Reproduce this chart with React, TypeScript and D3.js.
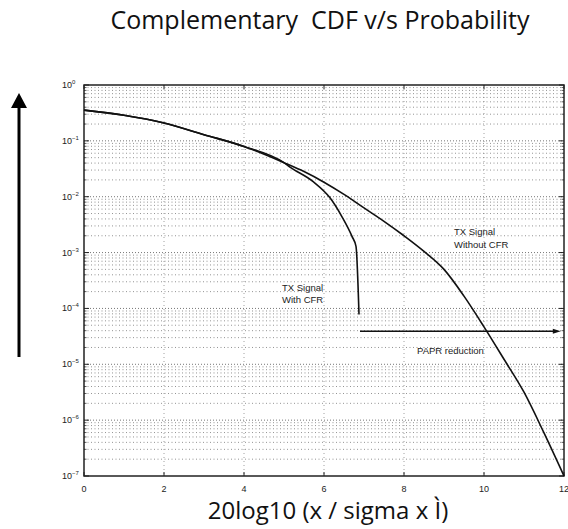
import React from "react";
import * as d3 from "d3";

const xTicks = [0, 2, 4, 6, 8, 10, 12];
const yExponents = [0, -1, -2, -3, -4, -5, -6, -7];

const withoutCfrX = [0, 1, 2, 3, 4, 5, 5.5, 6, 6.5, 7, 7.5, 8, 8.5, 9, 9.5, 10, 10.5, 11, 11.5, 12];
const withoutCfrP = [0.355, 0.288, 0.209, 0.129, 0.0794, 0.0407, 0.0282, 0.0182, 0.011, 0.00631, 0.00363, 0.002, 0.00105, 5.0e-4, 1.66e-4, 4.68e-5, 1.23e-5, 3.16e-6, 5.9e-7, 1e-7];

const withCfrX = [0, 1, 2, 3, 4, 5, 5.15, 5.73, 6.15, 6.45, 6.7, 6.8, 6.875];
const withCfrP = [0.355, 0.288, 0.209, 0.129, 0.0794, 0.0407, 0.0339, 0.0186, 0.00955, 0.00437, 0.00195, 0.00129, 7.8e-5];

const paprStartX = 6.9;
const paprEndX = 11.92;
const paprP = 3.9e-5;

const W = 568, H = 529;
const L = 84, R = 564, T = 85, B = 476;

export default function App() {
  const x = d3.scaleLinear().domain([0, 12]).range([L, R]);
  const y = d3.scaleLog().domain([1, 1e-7]).range([T, B]);

  const line = d3.line<[number, number]>()
    .x(d => x(d[0])).y(d => y(d[1])).curve(d3.curveMonotoneX);

  const without = withoutCfrX.map((v, i) => [v, withoutCfrP[i]] as [number, number]);
  const withC = withCfrX.map((v, i) => [v, withCfrP[i]] as [number, number]);

  const minors: number[] = [];
  for (let e = -7; e < 0; e++) for (let m = 2; m <= 9; m++) minors.push(m * Math.pow(10, e));

  const ay = y(paprP);

  return (
    <svg width={W} height={H} style={{ position: "absolute", left: 0, top: 0, background: "#fff" }}>
      <text x={320} y={29} textAnchor="middle" fontFamily="'Open Sans', sans-serif" fontSize={25} fill="#111">{"Complementary\u00A0 CDF v/s Probability"}</text>

      {/* left arrow */}
      <line x1={19} x2={19} y1={106} y2={357} stroke="#000" strokeWidth={3} />
      <path d="M19,93 L27,108 L11,108 Z" fill="#000" />

      {/* grid */}
      {minors.map((v, i) => (
        <line key={"hm" + i} x1={L} x2={R} y1={y(v)} y2={y(v)} stroke="#777" strokeWidth={0.8} strokeDasharray="1,2.5" />
      ))}
      {yExponents.slice(1, -1).map(e => (
        <line key={"hM" + e} x1={L} x2={R} y1={y(Math.pow(10, e))} y2={y(Math.pow(10, e))} stroke="#666" strokeWidth={0.9} strokeDasharray="1,2" />
      ))}
      {xTicks.slice(1, -1).map(t => (
        <line key={"v" + t} x1={x(t)} x2={x(t)} y1={T} y2={B} stroke="#888" strokeWidth={0.8} strokeDasharray="1,3" />
      ))}

      {/* ticks */}
      {xTicks.map(t => (
        <g key={"xt" + t}>
          <line x1={x(t)} x2={x(t)} y1={B} y2={B - 4} stroke="#222" />
          <line x1={x(t)} x2={x(t)} y1={T} y2={T + 4} stroke="#222" />
          <text x={x(t)} y={492} textAnchor="middle" fontFamily="Arial, 'Liberation Sans', sans-serif" fontSize={9} fill="#222">{t}</text>
        </g>
      ))}
      {minors.map((v, i) => (
        <g key={"ymt" + i}>
          <line x1={L} x2={L + 2.5} y1={y(v)} y2={y(v)} stroke="#333" strokeWidth={0.8} />
          <line x1={R} x2={R - 2.5} y1={y(v)} y2={y(v)} stroke="#333" strokeWidth={0.8} />
        </g>
      ))}
      {yExponents.map(e => {
        const yy = y(Math.pow(10, e));
        return (
          <g key={"yt" + e}>
            <line x1={L} x2={L + 5} y1={yy} y2={yy} stroke="#222" />
            <line x1={R} x2={R - 5} y1={yy} y2={yy} stroke="#222" />
            <text x={62} y={yy + 3} fontFamily="Arial, 'Liberation Sans', sans-serif" fontSize={9} fill="#222">
              10<tspan fontSize={6} dy={-4}>{e === 0 ? "0" : "\u2212" + (-e)}</tspan>
            </text>
          </g>
        );
      })}

      {/* frame */}
      <rect x={L} y={T} width={R - L} height={B - T} fill="none" stroke="#222" strokeWidth={1.5} />

      {/* curves */}
      <path d={line(without) || ""} fill="none" stroke="#111" strokeWidth={1.6} />
      <path d={line(withC) || ""} fill="none" stroke="#111" strokeWidth={1.6} />

      {/* PAPR arrow */}
      <line x1={x(paprStartX)} x2={x(paprEndX) - 6} y1={ay} y2={ay} stroke="#111" strokeWidth={1.4} />
      <path d={`M${x(paprEndX)},${ay} L${x(paprEndX) - 8},${ay - 2.5} L${x(paprEndX) - 8},${ay + 2.5} Z`} fill="#111" />

      {/* annotations */}
      <g fontFamily="Arial, 'Liberation Sans', sans-serif" fontSize={9.5} fill="#222">
        <text x={454} y={235}>TX Signal</text>
        <text x={454} y={248}>Without CFR</text>
        <text x={282} y={291}>TX Signal</text>
        <text x={282} y={303}>With CFR</text>
        <text x={417} y={354}>PAPR reduction</text>
      </g>

      <text x={328} y={519} textAnchor="middle" fontFamily="'Open Sans', sans-serif" fontSize={24} fill="#111">20log10 (x / sigma x Ì)</text>
    </svg>
  );
}
